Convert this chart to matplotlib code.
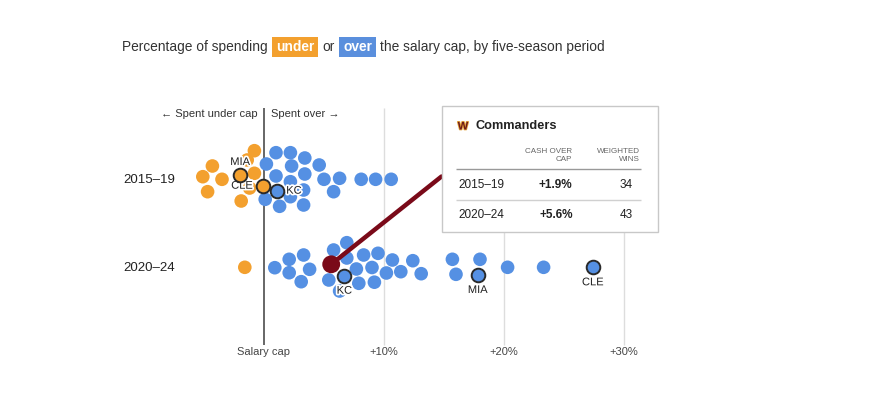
"""Beeswarm of NFL cash spending over/under the salary cap, two five-season periods,
with the Commanders tooltip."""

import matplotlib

matplotlib.use("Agg")
import matplotlib.patheffects as pe
import matplotlib.pyplot as plt
from matplotlib.patches import ConnectionPatch, Rectangle

plt.rcParams["font.family"] = ["Liberation Sans", "DejaVu Sans"]

W, H = 892, 398
CAP_PX = 264          # pixel x of the salary cap line
PX_PER_PCT = 12       # pixels per percentage point
ROW_Y = [179, 267.3]  # pixel y of each period row

ORANGE = "#F3A02E"
BLUE = "#5590E3"
WAS_RED = "#7A0A19"

PERIODS = ["2015–19", "2020–24"]

# cash spent vs cap (%) and swarm offset (px) for each team, by period
under_1519_pct = [-0.8, -4.3, -5.1, -3.5, -4.7, -0.8, -1.9, -1.4, -1.2]
under_1519_dy = [-28.3, -13, -2.3, 0.3, 12.7, -5.7, 22, -19, 9]
over_1519_pct = [1.0, 2.2, 3.4, 0.2, 2.3, 4.6, 1.0, 3.4, 2.2, 5.0, 6.3, 8.1,
                 9.3, 10.6, 3.3, 5.8, 2.2, 0.1, 1.3, 3.3]
over_1519_dy = [-26.3, -26.3, -21, -15, -13, -14, -3, -5, 2.7, 0.3, -0.7, 0.3,
                0.3, 0.3, 11, 12.7, 17.7, 20.3, 27.3, 26]

under_2024_pct = [-1.6]
under_2024_dy = [0]
over_2024_pct = [0.9, 2.1, 3.3, 2.1, 3.8, 3.1, 5.4, 5.8, 6.9, 6.3, 7.7, 8.3,
                 9.5, 9.0, 10.7, 10.2, 11.4, 12.4, 13.1, 7.9, 9.2, 15.7, 18.0,
                 16.0, 20.3, 23.3, 6.9]
over_2024_dy = [0.4, -8, -12.3, 5.4, 2, 14.4, 12.7, -17.3, -24.6, 23.7, 1.7,
                -12.3, -14, 0.2, -7.3, 5.7, 4.4, -6.6, 6.4, 16, 14.9, -8, -8,
                7, 0, 0, -9.3]

# labelled teams: (name, period index, pct, offset)
hl_teams = ["MIA", "CLE", "KC", "KC", "MIA", "CLE"]
hl_period = [0, 0, 0, 1, 1, 1]
hl_pct = [-2.0, -0.1, 1.1, 6.7, 17.8, 27.4]
hl_dy = [-4, 6.7, 11.7, 8.4, 7.7, 0]
# label placement relative to dot (px): dx, dy, ha
hl_label_pos = [(0, -13, "center"), (-10, 0, "right"), (9, 0, "left"),
                (0, 15, "center"), (0, 15, "center"), (0, 15, "center")]

was_pct = 5.6
was_dy = -3

tip_team = "Commanders"
tip_periods = ["2015–19", "2020–24"]
tip_cash = ["+1.9%", "+5.6%"]
tip_wins = [34, 43]

tick_pct = [0, 10, 20, 30]
tick_labels = ["Salary cap", "+10%", "+20%", "+30%"]


def main():
    fig = plt.figure(figsize=(W / 100, H / 100), dpi=100)
    fig.patch.set_facecolor("white")

    ax = fig.add_axes([0, 0, 1, 1])
    ax.set_xlim(-CAP_PX / PX_PER_PCT, (W - CAP_PX) / PX_PER_PCT)
    ax.set_ylim(H, 0)
    ax.axis("off")

    ov = fig.add_axes([0, 0, 1, 1], zorder=5)
    ov.set_xlim(0, W)
    ov.set_ylim(H, 0)
    ov.axis("off")
    ov.patch.set_alpha(0)

    # grid + cap line
    ax.vlines([p for p in tick_pct if p != 0], 108, 345, color="#dddddd", lw=1, zorder=0)
    ax.vlines(0, 108, 345, color="#666666", lw=1.4, zorder=0)
    for p, lab in zip(tick_pct, tick_labels):
        ax.text(p, 352, lab, ha="center", va="center", fontsize=8, color="#444444")

    ax.text(-0.5, 114, "← Spent under cap", ha="right", va="center", fontsize=8, color="#333333")
    ax.text(0.55, 114, "Spent over →", ha="left", va="center", fontsize=8, color="#333333")

    for y, lab in zip(ROW_Y, PERIODS):
        ov.text(123, y + 1, lab, ha="left", va="center", fontsize=9.5, color="#222222")

    s_dot = 96
    swarm = [
        (0, under_1519_pct, under_1519_dy, ORANGE),
        (0, over_1519_pct, over_1519_dy, BLUE),
        (1, under_2024_pct, under_2024_dy, ORANGE),
        (1, over_2024_pct, over_2024_dy, BLUE),
    ]
    for row, pct, dy, col in swarm:
        ax.scatter(pct, [ROW_Y[row] + d for d in dy], s=s_dot, color=col,
                   edgecolors="none", zorder=2)

    halo = [pe.withStroke(linewidth=2.5, foreground="white")]
    for name, row, pct, dy, (lx, ly, ha) in zip(hl_teams, hl_period, hl_pct, hl_dy, hl_label_pos):
        y = ROW_Y[row] + dy
        ax.scatter([pct], [y], s=s_dot, color=ORANGE if pct < 0 else BLUE,
                   edgecolors="#2a2a2a", linewidths=1.4, zorder=4)
        ax.text(pct + lx / PX_PER_PCT, y + ly, name, ha=ha, va="center",
                fontsize=8, color="#222222", path_effects=halo, zorder=3)

    # Commanders dot + leader line to the tooltip
    was_y = ROW_Y[1] + was_dy
    ax.scatter([was_pct], [was_y], s=165, color=WAS_RED, edgecolors="none", zorder=6)
    box_x0, box_y0, box_x1, box_y1 = 441.5, 105.5, 657.5, 232
    con = ConnectionPatch(xyA=(was_pct, was_y), coordsA=ax.transData,
                          xyB=(box_x0, 176.5), coordsB=ov.transData,
                          color=WAS_RED, lw=3.2, capstyle="round", zorder=1)
    ov.add_artist(con)

    # tooltip
    ov.add_patch(Rectangle((box_x0, box_y0), box_x1 - box_x0, box_y1 - box_y0,
                           facecolor="white", edgecolor="#c8c8c8", lw=1, zorder=2))
    ov.text(463, 126.5, "W", ha="center", va="center", fontsize=8, fontweight="bold",
            color="#6E1A1A", zorder=3,
            path_effects=[pe.withStroke(linewidth=1.2, foreground="#E5A43A")])
    ov.text(475, 126, tip_team, ha="left", va="center", fontsize=9.2,
            fontweight="bold", color="#222222", zorder=3)
    ov.text(572, 155.5, "CASH OVER\nCAP", ha="right", va="center", fontsize=5.8,
            color="#666666", linespacing=1.15, zorder=3)
    ov.text(640, 155.5, "WEIGHTED\nWINS", ha="right", va="center", fontsize=5.8,
            color="#666666", linespacing=1.15, zorder=3)
    ov.hlines(168.5, 456, 641, color="#999999", lw=1, zorder=3)
    ov.hlines(199.5, 456, 641, color="#d0d0d0", lw=1, zorder=3)
    for y, per, cash, wins in zip([184.5, 214.5], tip_periods, tip_cash, tip_wins):
        ov.text(458, y, per, ha="left", va="center", fontsize=8.5, color="#222222", zorder=3)
        ov.text(572.5, y, cash, ha="right", va="center", fontsize=8.5,
                fontweight="semibold", color="#222222", zorder=3)
        ov.text(633, y, str(wins), ha="right", va="center", fontsize=8.5,
                color="#222222", zorder=3)

    # title with highlighted words
    renderer = fig.canvas.get_renderer()
    pieces = [
        ("Percentage of spending", None),
        ("under", ORANGE),
        ("or", None),
        ("over", "#5A8FDD"),
        ("the salary cap, by five-season period", None),
    ]
    x = 122
    for text, box in pieces:
        if box is not None:
            x += 4
        t = ov.text(x, 47, text, ha="left", va="center", fontsize=9.95,
                    color="white" if box else "#333333",
                    fontweight="bold" if box else "normal", zorder=4)
        bb = t.get_window_extent(renderer)
        if box is not None:
            ov.add_patch(Rectangle((bb.x0 - 4, 36.5), bb.width + 8, 20.5,
                                   facecolor=box, edgecolor="none", zorder=3))
            x = bb.x1 + 4 + 4
        else:
            x = bb.x1 + 4.5

    fig.savefig("out.png", dpi=100, facecolor="white")


if __name__ == "__main__":
    main()
